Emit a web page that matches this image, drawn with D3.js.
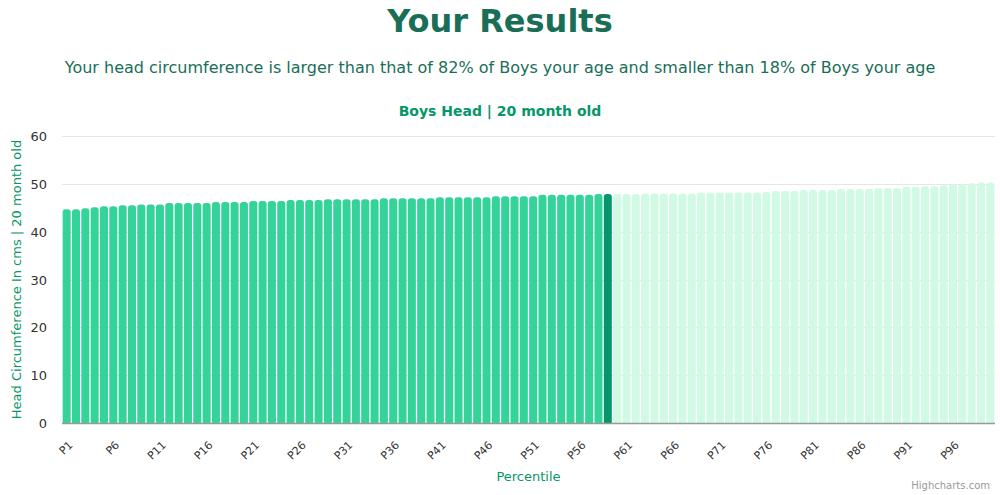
<!DOCTYPE html>
<html>
<head>
<meta charset="utf-8">
<script src="https://cdn.jsdelivr.net/npm/d3@7"></script>
<style>
  html, body { margin: 0; padding: 0; background: #fff; }
  svg { display: block; font-family: "DejaVu Sans", sans-serif; }
</style>
</head>
<body>
<svg id="chart" width="1000" height="495"></svg>
<script>
// ---- Data ----
const categories = d3.range(1, 101).map(i => "P" + i);
const values = [
  44.7, 44.7, 44.9, 45.1, 45.3, 45.3, 45.5, 45.5, 45.7, 45.7,
  45.7, 46.0, 46.0, 46.0, 46.0, 46.0, 46.2, 46.2, 46.2, 46.2,
  46.4, 46.4, 46.4, 46.4, 46.6, 46.6, 46.6, 46.6, 46.8, 46.8,
  46.8, 46.8, 46.8, 46.8, 47.0, 47.0, 47.0, 47.0, 47.0, 47.0,
  47.2, 47.2, 47.2, 47.2, 47.2, 47.2, 47.4, 47.4, 47.4, 47.4,
  47.4, 47.7, 47.7, 47.7, 47.7, 47.7, 47.7, 47.9, 47.9, 47.9,
  47.9, 47.9, 48.0, 48.0, 48.0, 48.0, 48.0, 48.0, 48.2, 48.2,
  48.2, 48.2, 48.2, 48.2, 48.2, 48.3, 48.5, 48.5, 48.5, 48.7,
  48.7, 48.7, 48.7, 48.9, 48.9, 48.9, 48.9, 49.1, 49.1, 49.1,
  49.4, 49.4, 49.5, 49.5, 49.7, 49.9, 49.9, 50.1, 50.3, 50.3
];
const highlightIndex = 58; // P59
const yTicks = [0, 10, 20, 30, 40, 50, 60];
const xTickLabels = categories.filter((c, i) => i % 5 === 0);

const titleText = "Your Results";
const subtitleText = "Your head circumference is larger than that of 82% of Boys your age and smaller than 18% of Boys your age";
const chartTitle = "Boys Head | 20 month old";
const yTitle = "Head Circumference In cms | 20 month old";
const xTitle = "Percentile";
const credit = "Highcharts.com";

// ---- Layout ----
const svg = d3.select("#chart");
const plot = { left: 62, right: 995, top: 136, bottom: 423 };

const x = d3.scaleBand().domain(categories).range([plot.left, plot.right]).paddingInner(0.14).paddingOuter(0.07);
const y = d3.scaleLinear().domain([0, 60]).range([plot.bottom, plot.top]);

// Titles
svg.append("text").attr("x", 500).attr("y", 32).attr("text-anchor", "middle")
  .attr("font-size", 32).attr("font-weight", "bold").attr("fill", "#1a6e58").text(titleText);
svg.append("text").attr("x", 500).attr("y", 73).attr("text-anchor", "middle")
  .attr("font-size", 16).attr("fill", "#1a6e58").text(subtitleText);
svg.append("text").attr("x", 500).attr("y", 116).attr("text-anchor", "middle")
  .attr("font-size", 14).attr("font-weight", "bold").attr("fill", "#059669").text(chartTitle);

// Gridlines
svg.append("g").selectAll("line").data(yTicks.filter(d => d > 0)).join("line")
  .attr("x1", plot.left).attr("x2", plot.right)
  .attr("y1", d => Math.round(y(d)) + 0.5).attr("y2", d => Math.round(y(d)) + 0.5)
  .attr("stroke", "#e6e6e6").attr("stroke-width", 1);

// Y axis labels
const yAxis = d3.axisLeft(y).tickValues(yTicks).tickSize(0).tickPadding(0);
const gy = svg.append("g").attr("transform", `translate(${plot.left - 15},0)`).call(yAxis);
gy.select(".domain").remove();
gy.selectAll("text").attr("font-size", 13).attr("fill", "#333").attr("font-family", "DejaVu Sans, sans-serif").attr("dy", "0.35em");

// Bars with rounded top corners
function barPath(x0, w, yTop, yBot, r) {
  r = Math.min(r, w / 2, yBot - yTop);
  return `M${x0},${yBot} L${x0},${yTop + r} Q${x0},${yTop} ${x0 + r},${yTop} L${x0 + w - r},${yTop} Q${x0 + w},${yTop} ${x0 + w},${yTop + r} L${x0 + w},${yBot} Z`;
}
svg.append("g").selectAll("path").data(values).join("path")
  .attr("d", (d, i) => barPath(x(categories[i]), x.bandwidth(), y(d), y(0), 3))
  .attr("fill", (d, i) => i < highlightIndex ? "#34d399" : (i === highlightIndex ? "#059669" : "#d1fae5"));

// X axis line
svg.append("line").attr("x1", plot.left).attr("x2", plot.right)
  .attr("y1", plot.bottom + 0.5).attr("y2", plot.bottom + 0.5)
  .attr("stroke", "#999").attr("stroke-width", 1.5);

// X tick labels
svg.append("g").selectAll("text").data(xTickLabels).join("text")
  .attr("transform", d => `translate(${x(d) + x.bandwidth() / 2 + 4},${plot.bottom + 20}) rotate(-45)`)
  .attr("text-anchor", "end").attr("dy", "0.35em")
  .attr("font-size", 11).attr("fill", "#333").text(d => d);

// Axis titles
svg.append("text").attr("transform", `translate(21,${(plot.top + plot.bottom) / 2}) rotate(-90)`)
  .attr("text-anchor", "middle").attr("font-size", 13).attr("fill", "#059669").text(yTitle);
svg.append("text").attr("x", (plot.left + plot.right) / 2).attr("y", 481).attr("text-anchor", "middle")
  .attr("font-size", 13).attr("fill", "#059669").text(xTitle);

// Credit
svg.append("text").attr("x", 990).attr("y", 489).attr("text-anchor", "end")
  .attr("font-size", 10).attr("fill", "#999").text(credit);
</script>
</body>
</html>
